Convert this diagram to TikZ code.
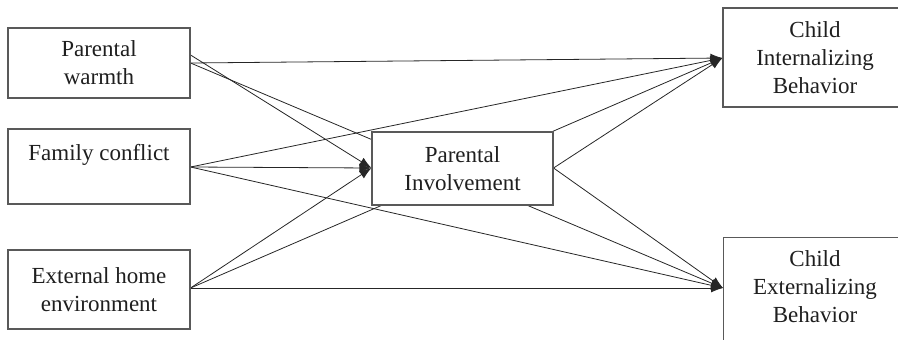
\documentclass[tikz,border=0pt]{standalone}
\usepackage{fontspec}
\setmainfont{Liberation Serif}
\usetikzlibrary{arrows.meta,backgrounds,calc}
\begin{document}
\begin{tikzpicture}[x=1pt,y=-1pt,
  box/.style={draw=black!65,line width=1.1pt,fill=white,inner sep=0pt,align=center,
    font=\fontsize{23}{28}\selectfont,text=black!88},
  txt/.style={inner sep=0pt,align=center,font=\fontsize{23}{28}\selectfont,text=black!88},
  link/.style={draw=black!85,line width=0.8pt,-{Latex[length=12pt,width=9pt]}}]
\useasboundingbox (0,0) rectangle (898,340);
\clip (0,0) rectangle (898,340);
\node[box,minimum width=182pt,minimum height=70pt] (pw) at (99,63) {Parental\\warmth};
\node[box,minimum width=182pt,minimum height=75pt] (fc) at (99,166.5) {Family conflict\\\mbox{}};
\node[box,minimum width=182pt,minimum height=79pt] (eh) at (99,289.5) {External home\\environment};
\node[box,minimum width=181pt,minimum height=73pt] (pi) at (462.5,168.5) {Parental\\Involvement};
\node[box,minimum width=184pt,minimum height=99pt] (ci) at (815,57.5) {Child\\Internalizing\\Behavior};
\node[box,minimum width=184pt,minimum height=113pt,anchor=north west] (ce) at (723,237) {};
\node[txt] (cet) at (815,287) {Child\\Externalizing\\Behavior};
\coordinate (pwA) at ($(pw.east)+(0,-8)$);
\coordinate (pwB) at (pw.east);
\coordinate (fcO) at ($(fc.east)+(0,0.5)$);
\coordinate (ehO) at ($(eh.east)+(0,-1.5)$);
\coordinate (piIn) at ($(pi.west)+(0,-0.5)$);
\coordinate (piO) at ($(pi.east)+(0,-0.5)$);
\coordinate (ciIn) at ($(ci.west)+(0,0.5)$);
\coordinate (ceIn) at ($(ce.north west)+(0,51)$);
\begin{pgfonlayer}{background}
\draw[link] (pwB) -- (ciIn);
\draw[link] (pwA) -- (piIn);
\draw[link] (pwB) -- (ceIn);
\draw[link] (fcO) -- (ciIn);
\draw[link] (fcO) -- (piIn);
\draw[link] (fcO) -- (ceIn);
\draw[link] (ehO) -- (piIn);
\draw[link] (ehO) -- (ciIn);
\draw[link] (ehO) -- (ceIn);
\draw[link] (piO) -- (ciIn);
\draw[link] (piO) -- (ceIn);
\end{pgfonlayer}
\end{tikzpicture}
\end{document}
